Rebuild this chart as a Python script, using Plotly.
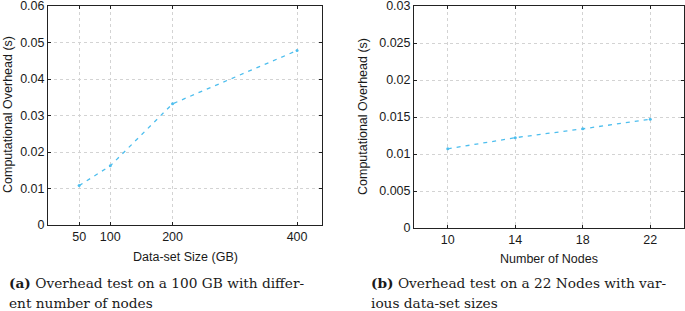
import plotly.graph_objects as go

# Data
size_gb = [50, 100, 200, 400]
overhead_size = [0.0108, 0.0162, 0.0332, 0.0478]
size_ticks = [50, 100, 200, 400]

nodes = [10, 14, 18, 22]
overhead_nodes = [0.0107, 0.0122, 0.0134, 0.0147]
node_ticks = [10, 14, 18, 22]

W, H = 685, 311
LINE = "#4DBEEE"
GRID = "#d3d3d3"
TICKFONT = dict(family="Liberation Sans, Arial, sans-serif", size=12.5, color="#1a1a1a")

fig = go.Figure()
fig.add_trace(go.Scatter(x=size_gb, y=overhead_size, mode="lines+markers",
                         line=dict(color=LINE, width=1.3, dash="4px,5px"),
                         marker=dict(color=LINE, size=3),
                         xaxis="x", yaxis="y", showlegend=False))
fig.add_trace(go.Scatter(x=nodes, y=overhead_nodes, mode="lines+markers",
                         line=dict(color=LINE, width=1.3, dash="4px,5px"),
                         marker=dict(color=LINE, size=3),
                         xaxis="x2", yaxis="y2", showlegend=False))

common = dict(showline=True, linecolor="#222", linewidth=1, mirror="allticks",
              ticks="inside", ticklen=3, tickcolor="#222",
              showgrid=True, gridcolor=GRID, griddash="dot", gridwidth=1,
              zeroline=False, tickfont=TICKFONT, ticklabeloverflow="allow",
              automargin=False)

fig.update_layout(
    width=W, height=H,
    margin=dict(l=0, r=0, t=0, b=0),
    paper_bgcolor="white", plot_bgcolor="white",
    xaxis=dict(domain=[48 / W, 322 / W], range=[0, 440], tickvals=size_ticks,
               anchor="y", **common),
    yaxis=dict(domain=[1 - 225 / H, 1 - 6 / H], range=[0, 0.06],
               tickvals=[0, 0.01, 0.02, 0.03, 0.04, 0.05, 0.06],
               ticktext=["0", "0.01", "0.02", "0.03", "0.04", "0.05", "0.06"],
               anchor="x", **common),
    xaxis2=dict(domain=[414 / W, 684 / W], range=[8, 24], tickvals=node_ticks,
                anchor="y2", **common),
    yaxis2=dict(domain=[1 - 228 / H, 1 - 6 / H], range=[0, 0.03],
                tickvals=[0, 0.005, 0.01, 0.015, 0.02, 0.025, 0.03],
                ticktext=["0", "0.005", "0.01", "0.015", "0.02", "0.025", "0.03"],
                anchor="x2", **common),
)

AXT = dict(family="Liberation Sans, Arial, sans-serif", size=12.5, color="#1a1a1a")
CAP = dict(family="DejaVu Serif, serif", size=13.7, color="#1a1a1a")

ann = [
    dict(text="Data-set Size (GB)", x=185, y=257, font=AXT),
    dict(text="Number of Nodes", x=549, y=259, font=AXT),
    dict(text="Computational Overhead (s)", x=8, y=115, font=AXT, textangle=-90),
    dict(text="Computational Overhead (s)", x=363, y=117, font=AXT, textangle=-90),
]
for a in ann:
    fig.add_annotation(xref="paper", yref="paper", x=a["x"] / W, y=1 - a["y"] / H,
                       text=a["text"], showarrow=False, font=a["font"],
                       textangle=a.get("textangle", 0),
                       xanchor="center", yanchor="middle")

caps = [
    ("<b>(a)</b> Overhead test on a 100 GB with differ-", 7, 283),
    ("ent number of nodes", 7, 303),
    ("<b>(b)</b> Overhead test on a 22 Nodes with var-", 369, 283),
    ("ious data-set sizes", 369, 303),
]
for text, x, y in caps:
    fig.add_annotation(xref="paper", yref="paper", x=x / W, y=1 - y / H,
                       text=text, showarrow=False, font=CAP, align="left",
                       xanchor="left", yanchor="middle")

fig.write_html("out.html", config={"displayModeBar": False},
               post_script="document.body.style.margin='0';document.body.style.overflow='hidden';")
